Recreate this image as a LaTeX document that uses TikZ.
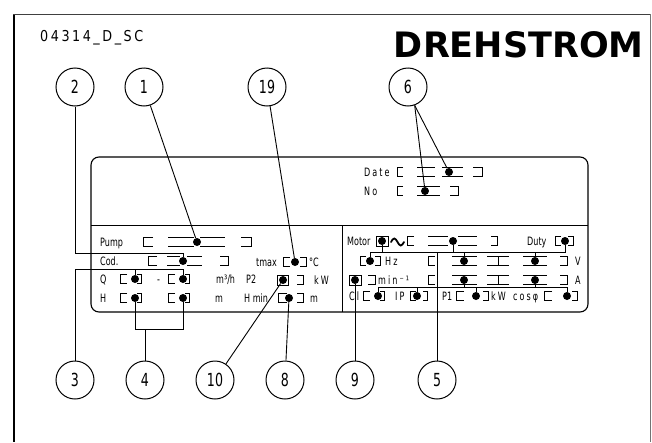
\documentclass[tikz,border=0pt]{standalone}
\usepackage{fontspec}
\newfontfamily\pf[FakeStretch=0.7]{DejaVu Sans}
\newfontfamily\pfs[FakeStretch=0.7,LetterSpace=18]{DejaVu Sans}
\newfontfamily\pfc[FakeStretch=0.85,LetterSpace=17]{DejaVu Sans}
\newfontfamily\ttlfont{DejaVu Sans}
\newcommand\fldL[3]{\draw[plate] ({#1+#3},{#2-4.5}) -- (#1,{#2-4.5}) -- (#1,{#2+4.5}) -- ({#1+#3},{#2+4.5});}
\newcommand\fldR[3]{\draw[plate] ({#1-#3},{#2-4.5}) -- (#1,{#2-4.5}) -- (#1,{#2+4.5}) -- ({#1-#3},{#2+4.5});}
\newcommand\fldS[3]{\draw[plate] (#1,{#3-4.5}) -- (#2,{#3-4.5}) (#1,{#3+4.5}) -- (#2,{#3+4.5});}
\newcommand\fldI[3]{\fldS{#1}{#2}{#3}\draw[plate] ({(#1+#2)/2},{#3-4.5}) -- ({(#1+#2)/2},{#3+4.5});}
\newcommand\fldB[3]{\draw[plate] (#1,{#3-5}) rectangle (#2,{#3+5});}
\begin{document}
\begin{tikzpicture}[x=1pt,y=-1pt,
  plate/.style={line width=1pt},
  lead/.style={line width=0.9pt},
  lbl/.style={anchor=base west, inner sep=0pt, font=\pf\fontsize{11.5}{13}\selectfont},
  lbls/.style={anchor=base west, inner sep=0pt, font=\pfs\fontsize{11.5}{13}\selectfont},
  callout/.style={draw, circle, minimum size=38pt, inner sep=0pt, line width=1pt, font=\pf\fontsize{18}{20}\selectfont},
  dot/.style={circle, fill, inner sep=0pt, minimum size=8pt}]
\useasboundingbox (0,0) rectangle (652,442);
% frame
\draw[line width=2pt] (14,14) -- (14,442);
\draw[line width=1pt, black!75] (13,14) -- (651,14);
\draw[line width=0.8pt, black!55] (650.5,14) -- (650.5,442);
% header texts
\node[anchor=base west, inner sep=0pt, font=\pfc\fontsize{15}{17}\selectfont] (code) at (40,41) {04314\_D\_SC};
\node[anchor=base east, inner sep=0pt, font=\ttlfont\bfseries\fontsize{35}{40}\selectfont] (title) at (644,57) {DREHSTROM};
% panel
\draw[line width=1.1pt, rounded corners=8pt] (91,157) rectangle (588,312);
\draw[plate] (91,225) -- (588,225);
\draw[plate] (342,225) -- (342,312);
% ---------- upper section
\node[lbls] (tDate) at (364,176) {Date};
\node[lbls] (tNo) at (364,195) {No};
\fldL{397}{172}{6} \fldS{417}{435}{172} \fldS{442}{463}{172} \fldR{482}{172}{9}
\node[dot] (dDate) at (449,172) {};
\fldL{397}{191}{6} \fldS{417}{440}{191} \fldR{458}{191}{8}
\node[dot] (dNo) at (425,191) {};
% ---------- left lower section
\node[lbl] (tPump) at (100,246) {Pump};
\fldL{143}{242}{10} \fldS{168}{194}{242} \fldS{200}{225}{242} \fldR{251}{242}{10}
\node[dot] (dPump) at (197,242) {};
\node[lbl] (tCod) at (100,265) {Cod.};
\fldL{148}{261}{9} \fldS{167}{180}{261} \fldS{187}{202}{261} \fldR{228}{261}{8}
\node[dot] (dCod) at (183,261) {};
\node[lbl] (ttmax) at (256,266) {tmax};
\fldL{283}{262}{7} \fldR{306}{262}{6}
\node[dot] (dtmax) at (295,262) {};
\node[lbl] (tdegC) at (309,266) {°C};
\node[lbl] (tQ) at (100,283) {Q};
\fldL{120}{279}{7} \fldR{141}{279}{4}
\node[dot] (dQa) at (135,279) {};
\node[lbl] (tdash) at (157,283) {-};
\fldL{168}{279}{7} \fldR{189}{279}{4}
\node[dot] (dQb) at (183,279) {};
\node[lbl] (tm3h) at (216,283) {m³/h};
\node[lbl] (tP2) at (246,283) {P2};
\fldB{277}{288}{280} \fldR{303}{280}{6}
\node[dot] (dP2) at (283,280) {};
\node[lbls] (tkW) at (314,284) {kW};
\node[lbl] (tH) at (100,302) {H};
\fldL{120}{298}{7} \fldR{141}{298}{4}
\node[dot] (dHa) at (135,298) {};
\fldL{168}{298}{7} \fldR{189}{298}{4}
\node[dot] (dHb) at (183,298) {};
\node[lbl] (tm1) at (215,302) {m};
\node[lbl] (tHmin) at (244,302) {H min};
\fldL{278}{298}{9} \fldR{303}{298}{6}
\node[dot] (dHmin) at (289,298) {};
\node[lbl] (tm2) at (310,302) {m};
% ---------- right lower section
\node[lbl] (tMotor) at (347,245) {Motor};
\fldB{376}{388}{241}
\node[dot] (dMbox) at (382,241) {};
\draw[line width=1.8pt, line cap=round] (391,242) sin (394.25,238.5) cos (397.5,242) sin (400.75,245.5) cos (404,242);
\fldL{407}{241}{7} \fldS{428}{448}{241} \fldS{458}{477}{241} \fldR{497}{241}{6}
\node[dot] (dMot) at (453,241) {};
\node[lbl] (tDuty) at (527,245) {Duty};
\fldL{555}{241}{6} \fldR{573}{241}{5}
\node[dot] (dDuty) at (565,241) {};
% Hz / V row
\fldL{360}{261}{6} \fldR{380}{261}{5}
\node[dot] (dHz) at (370,261) {};
\node[lbls] (tHz) at (385,265) {Hz};
\fldL{428}{261}{7} \fldS{452}{477}{261} \fldI{487}{509}{261} \fldS{523}{547}{261} \fldR{567}{261}{7}
\node[dot] (dVa) at (464,261) {};
\node[dot] (dVb) at (535,261) {};
\node[lbl] (tV) at (575,265) {V};
% min / A row
\fldB{349}{361}{280} \fldR{375}{280}{7}
\node[dot] (dmin) at (355,280) {};
\node[lbls] (tmin) at (378,284) {min⁻¹};
\fldL{428}{280}{7} \fldS{452}{477}{280} \fldI{487}{509}{280} \fldS{523}{547}{280} \fldR{567}{280}{7}
\node[dot] (dAa) at (464,280) {};
\node[dot] (dAb) at (535,280) {};
\node[lbl] (tA) at (575,284) {A};
% bottom row
\node[lbls] (tCl) at (349,300) {Cl};
\fldL{363}{296}{7} \fldR{384}{296}{4}
\node[dot] (dCl) at (378,296) {};
\node[lbls] (tIP) at (395,300) {IP};
\fldL{410}{296}{6} \fldR{427}{296}{4}
\node[dot] (dIP) at (417,296) {};
\node[lbl] (tP1) at (442,300) {P1};
\fldL{456}{296}{8} \fldR{488}{296}{5}
\node[dot] (dP1) at (476,296) {};
\node[lbls] (tkW2) at (491,300) {kW};
\node[lbls] (tcos) at (513,300) {cosφ};
\fldL{544}{296}{8} \fldR{577}{296}{5}
\node[dot] (dcos) at (567,296) {};
% ---------- callouts
\node[callout] (c2) at (75,87) {2};
\node[callout] (c1) at (144,87) {1};
\node[callout] (c19) at (267,87) {19};
\node[callout] (c6) at (408,87) {6};
\node[callout] (c3) at (75,380) {3};
\node[callout] (c4) at (145,380) {4};
\node[callout] (c10) at (215,380) {10};
\node[callout] (c8) at (285,380) {8};
\node[callout] (c9) at (355,380) {9};
\node[callout] (c5) at (437,380) {5};
% junctions
\coordinate (j2) at (183,253);
\coordinate (j3) at (183,269);
\coordinate (j4) at (183,329);
\coordinate (a1) at (370,252);
\coordinate (a2) at (565,252);
\coordinate (b1) at (378,287);
\coordinate (b2) at (567,287);
% leader lines
\draw[lead] (c1) -- (dPump);
\draw[lead] (c19) -- (dtmax);
\draw[lead] (c6.-70) -- (dDate);
\draw[lead] (c6.-70) -- (dNo);
\draw[lead] (c2.south) |- (j2) -- (dCod);
\draw[lead] (c3.north) |- (j3) -- (dQb);
\draw[lead] (dQa) -- (dQa |- j3);
\draw[lead] (dHa) |- (j4) -- (dHb);
\draw[lead] (c4.north) -- (c4.north |- j4);
\draw[lead] (c10) -- (dP2);
\draw[lead] (c8) -- (dHmin);
\draw[lead] (c9.north) -- (dmin);
\draw[lead] (dHz) -- (a1) -- (a2) -- (dDuty);
\draw[lead] (dMbox) -- (dMbox |- a1);
\draw[lead] (dMot) -- (dMot |- a1);
\draw[lead] (dVa) -- (dVa |- a1);
\draw[lead] (dVb) -- (dVb |- a1);
\draw[lead] (c5.north) -- (c5.north |- a1);
\draw[lead] (dCl) -- (b1) -- (b2) -- (dcos);
\draw[lead] (dIP) -- (dIP |- b1);
\draw[lead] (dP1) -- (dP1 |- b1);
\draw[lead] (dAa) -- (dAa |- b1);
\draw[lead] (dAb) -- (dAb |- b1);
\end{tikzpicture}
\end{document}
